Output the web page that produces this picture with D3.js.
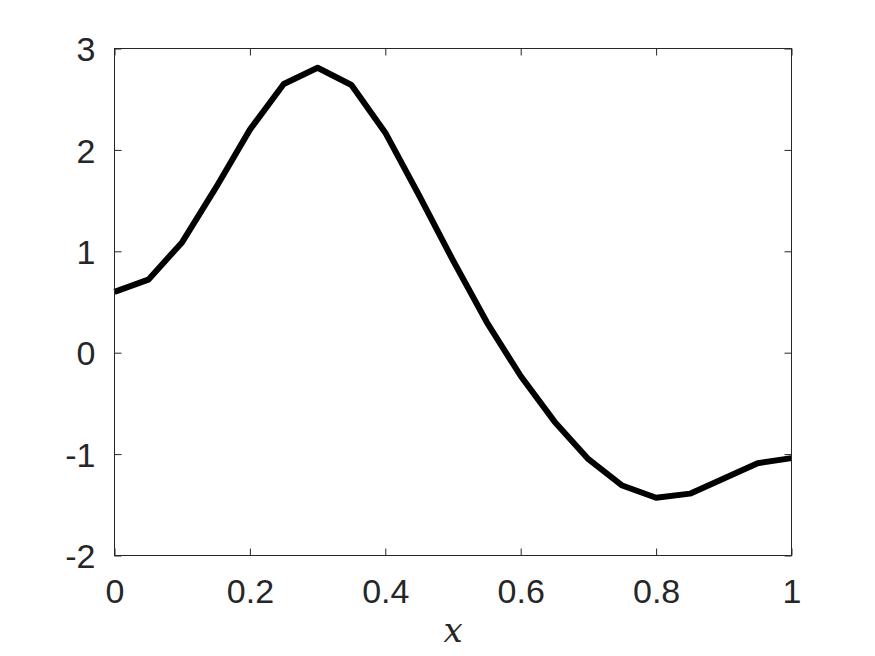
<!DOCTYPE html>
<html>
<head>
<meta charset="utf-8">
<script src="https://cdn.jsdelivr.net/npm/d3@7"></script>
<style>
  body { margin: 0; background: #fff; }
  .tick text { font-family: "Liberation Sans", Arial, sans-serif; font-size: 34px; fill: #262626; }
</style>
</head>
<body>
<div id="chart"></div>
<script>
// data
var xs = [0, 0.05, 0.1, 0.15, 0.2, 0.25, 0.3, 0.35, 0.4, 0.45, 0.5,
          0.55, 0.6, 0.65, 0.7, 0.75, 0.8, 0.85, 0.9, 0.95, 1];
var ys = [0.60, 0.72, 1.09, 1.63, 2.20, 2.65, 2.81, 2.64, 2.17, 1.55, 0.91,
          0.30, -0.23, -0.68, -1.05, -1.31, -1.43, -1.39, -1.24, -1.09, -1.04];
var xTicks = [0, 0.2, 0.4, 0.6, 0.8, 1];
var yTicks = [-2, -1, 0, 1, 2, 3];
var xLabel = "x";

var W = 875, H = 656;
var margin = {top: 48.5, right: 83.5, bottom: 100.5, left: 114.5};
var width = W - margin.left - margin.right,
    height = H - margin.top - margin.bottom;

var svg = d3.select("#chart").append("svg")
    .attr("width", W)
    .attr("height", H);

var g = svg.append("g")
    .attr("transform", "translate(" + margin.left + "," + margin.top + ")");

var x = d3.scaleLinear().domain([0, 1]).range([0, width]);
var y = d3.scaleLinear().domain([-2, 3]).range([height, 0]);

// plain hyphen minus, like the original
var fmt = function(d) { return String(d); };

// line first, frame drawn over it
var line = d3.line()
    .x(function(d, i) { return x(xs[i]); })
    .y(function(d) { return y(d); });

g.append("path")
    .datum(ys)
    .attr("fill", "none")
    .attr("stroke", "#000")
    .attr("stroke-width", 6)
    .attr("stroke-linejoin", "round")
    .attr("d", line);

function styleAxis(sel, hideText) {
  sel.select(".domain").remove();
  sel.selectAll(".tick line").attr("stroke", "#262626").attr("stroke-width", 1);
  if (hideText) sel.selectAll(".tick text").remove();
}

// bottom axis with labels, inward ticks
g.append("g")
    .attr("transform", "translate(0," + height + ")")
    .call(d3.axisBottom(x).tickValues(xTicks).tickSizeInner(-7).tickPadding(23)
          .tickFormat(fmt))
    .call(function(s) { styleAxis(s, false); });

// left axis with labels
g.append("g")
    .call(d3.axisLeft(y).tickValues(yTicks).tickSizeInner(-7).tickPadding(19)
          .tickFormat(fmt))
    .call(function(s) { styleAxis(s, false); })
    .selectAll(".tick text").attr("dy", "0.36em");

// top and right ticks (box on)
g.append("g")
    .call(d3.axisTop(x).tickValues(xTicks).tickSizeInner(-7))
    .call(function(s) { styleAxis(s, true); });
g.append("g")
    .attr("transform", "translate(" + width + ",0)")
    .call(d3.axisRight(y).tickValues(yTicks).tickSizeInner(-7))
    .call(function(s) { styleAxis(s, true); });

// frame
g.append("rect")
    .attr("width", width)
    .attr("height", height)
    .attr("fill", "none")
    .attr("stroke", "#262626")
    .attr("stroke-width", 1);

// x label
svg.append("text")
    .attr("x", margin.left + width / 2)
    .attr("y", 642)
    .attr("text-anchor", "middle")
    .style("font-family", "'DejaVu Serif', serif")
    .style("font-style", "italic")
    .style("font-size", "34px")
    .style("fill", "#262626")
    .text(xLabel);
</script>
</body>
</html>
